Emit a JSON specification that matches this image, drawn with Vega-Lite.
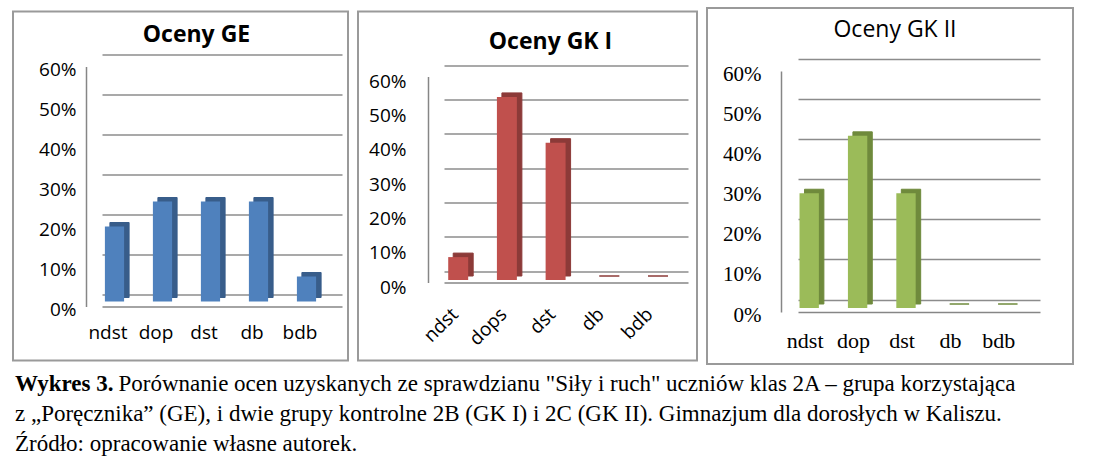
{
  "$schema": "https://vega.github.io/schema/vega-lite/v6.json",
  "padding": {"left": 12, "top": 7, "right": 0, "bottom": 0},
  "background": "white",
  "datasets": {
    "grades": [
      {"group": "GE", "k": "ndst", "v": 0.1875},
      {"group": "GE", "k": "dop", "v": 0.25},
      {"group": "GE", "k": "dst", "v": 0.25},
      {"group": "GE", "k": "db", "v": 0.25},
      {"group": "GE", "k": "bdb", "v": 0.0625},
      {"group": "GK I", "k": "ndst", "v": 0.0667},
      {"group": "GK I", "k": "dops", "v": 0.5333},
      {"group": "GK I", "k": "dst", "v": 0.4},
      {"group": "GK I", "k": "db", "v": 0},
      {"group": "GK I", "k": "bdb", "v": 0},
      {"group": "GK II", "k": "ndst", "v": 0.2857},
      {"group": "GK II", "k": "dop", "v": 0.4286},
      {"group": "GK II", "k": "dst", "v": 0.2857},
      {"group": "GK II", "k": "db", "v": 0},
      {"group": "GK II", "k": "bdb", "v": 0}
    ]
  },
  "title": {
    "text": "Wykres 3.",
    "subtitle": [
      "\u200b\u00a0\u00a0\u00a0\u00a0\u00a0\u00a0\u00a0\u00a0\u00a0\u00a0\u00a0\u00a0\u00a0\u00a0\u00a0\u00a0\u00a0\u00a0Porównanie ocen uzyskanych ze sprawdzianu \"Siły i ruch\" uczniów klas 2A – grupa korzystająca",
      "z „Poręcznika” (GE), i dwie grupy kontrolne 2B (GK I) i 2C (GK II). Gimnazjum dla dorosłych w Kaliszu.",
      "Źródło: opracowanie własne autorek."
    ],
    "orient": "bottom",
    "anchor": "start",
    "frame": "bounds",
    "offset": 8,
    "dx": 3,
    "font": "Liberation Serif",
    "fontSize": 23,
    "fontWeight": "bold",
    "color": "black",
    "subtitleFont": "Liberation Serif",
    "subtitleFontSize": 23,
    "subtitleLineHeight": 30,
    "subtitleColor": "black",
    "subtitlePadding": -23
  },
  "hconcat": [
    {
      "width": 335,
      "height": 349,
      "title": {"text": "Oceny GE", "anchor": "middle", "frame": "group", "orient": "top", "offset": -35, "dx": 16, "font": "Open Sans", "fontSize": 23, "fontWeight": "bold", "color": "black"},
      "data": {"name": "grades"},
      "transform": [{"filter": "datum.group === 'GE'"}],
      "encoding": {
        "x": {"field": "k", "type": "nominal", "sort": null,
          "scale": {"range": [89, 329], "paddingInner": 0.6, "paddingOuter": 0.3},
          "axis": {"orient": "bottom", "offset": -54, "title": null, "labelAngle": 0, "labelOffset": -18, "labelPadding": 17, "ticks": false, "domainColor": "#868686", "domainWidth": 1.5, "labelFont": "Open Sans", "labelFontSize": 19, "labelColor": "black"}},
        "y": {"field": "v", "type": "quantitative",
          "scale": {"domain": [0, 0.6], "range": [295, 55], "nice": false},
          "axis": {"orient": "left", "offset": -73, "title": null, "format": ".0%", "values": [0, 0.1, 0.2, 0.3, 0.4, 0.5, 0.6], "tickOffset": -12, "labelOffset": 15, "ticks": false, "labelPadding": 10, "grid": true, "gridColor": "#8c8c8c", "gridWidth": 1.5, "domain": true, "domainColor": "#868686", "domainWidth": 1.5, "labelFont": "Open Sans", "labelFontSize": 19, "labelColor": "black"}}
      },
      "layer": [
        {"mark": {"type": "bar", "color": "#385D8A", "stroke": "#385D8A", "strokeWidth": 1, "xOffset": -6.5, "yOffset": -9, "y2Offset": -9}},
        {"mark": {"type": "bar", "color": "#4F81BD", "xOffset": -11.5, "yOffset": -5, "y2Offset": -5}}
      ]
    },
    {
      "width": 339,
      "height": 349,
      "title": {"text": "Oceny GK I", "anchor": "middle", "frame": "group", "orient": "top", "offset": -42, "dx": 23, "font": "Open Sans", "fontSize": 23, "fontWeight": "bold", "color": "black"},
      "data": {"name": "grades"},
      "transform": [{"filter": "datum.group === 'GK I'"}],
      "encoding": {
        "x": {"field": "k", "type": "nominal", "sort": null,
          "scale": {"range": [86, 330], "paddingInner": 0.59, "paddingOuter": 0.3},
          "axis": {"orient": "bottom", "offset": -78, "title": null, "labelAngle": -45, "labelOffset": -20, "labelPadding": 22, "ticks": false, "domainColor": "#868686", "domainWidth": 1.5, "labelFont": "Open Sans", "labelFontSize": 19, "labelColor": "black"}},
        "y": {"field": "v", "type": "quantitative",
          "scale": {"domain": [0, 0.6], "range": [271, 65], "nice": false},
          "axis": {"orient": "left", "offset": -70, "title": null, "format": ".0%", "values": [0, 0.1, 0.2, 0.3, 0.4, 0.5, 0.6], "tickOffset": -11.5, "labelOffset": 16, "ticks": false, "labelPadding": 22, "grid": true, "gridColor": "#8c8c8c", "gridWidth": 1.5, "domain": true, "domainColor": "#868686", "domainWidth": 1.5, "labelFont": "Open Sans", "labelFontSize": 19, "labelColor": "black"}}
      },
      "layer": [
        {"mark": {"type": "bar", "color": "#8C3A38", "stroke": "#8C3A38", "strokeWidth": 1, "xOffset": -5.4, "yOffset": -6.5, "y2Offset": -6.5}},
        {"mark": {"type": "bar", "color": "#C0504D", "xOffset": -10.4, "yOffset": -2.5, "y2Offset": -2.5}}
      ]
    },
    {
      "width": 366,
      "height": 356,
      "title": {"text": "Oceny GK II", "anchor": "middle", "frame": "group", "orient": "top", "offset": -34, "dx": 5, "font": "Open Sans", "fontSize": 23, "fontWeight": "normal", "color": "black"},
      "data": {"name": "grades"},
      "transform": [{"filter": "datum.group === 'GK II'"}],
      "encoding": {
        "x": {"field": "k", "type": "nominal", "sort": null,
          "scale": {"range": [91, 333], "paddingInner": 0.6, "paddingOuter": 0.3},
          "axis": {"orient": "bottom", "offset": -52, "title": null, "labelAngle": 0, "labelOffset": -17, "labelPadding": 18, "ticks": false, "domainColor": "#868686", "domainWidth": 1.5, "labelFont": "Liberation Serif", "labelFontSize": 22, "labelColor": "black"}},
        "y": {"field": "v", "type": "quantitative",
          "scale": {"domain": [0, 0.6], "range": [304, 63], "nice": false},
          "axis": {"orient": "left", "offset": -74, "title": null, "format": ".0%", "values": [0, 0.1, 0.2, 0.3, 0.4, 0.5, 0.6], "tickOffset": -12.5, "labelOffset": 15.5, "ticks": false, "labelPadding": 20, "grid": true, "gridColor": "#8c8c8c", "gridWidth": 1.5, "domain": true, "domainColor": "#868686", "domainWidth": 1.5, "labelFont": "Liberation Serif", "labelFontSize": 21, "labelColor": "black"}}
      },
      "layer": [
        {"mark": {"type": "bar", "color": "#6F8A3C", "stroke": "#6F8A3C", "strokeWidth": 1, "xOffset": -8, "yOffset": -8, "y2Offset": -8}},
        {"mark": {"type": "bar", "color": "#9BBB59", "xOffset": -13, "yOffset": -4, "y2Offset": -4}}
      ]
    }
  ],
  "spacing": 8,
  "center": true,
  "config": {
    "view": {"stroke": "#9a9a9a", "strokeWidth": 2},
    "bar": {"opacity": 1}
  }
}
